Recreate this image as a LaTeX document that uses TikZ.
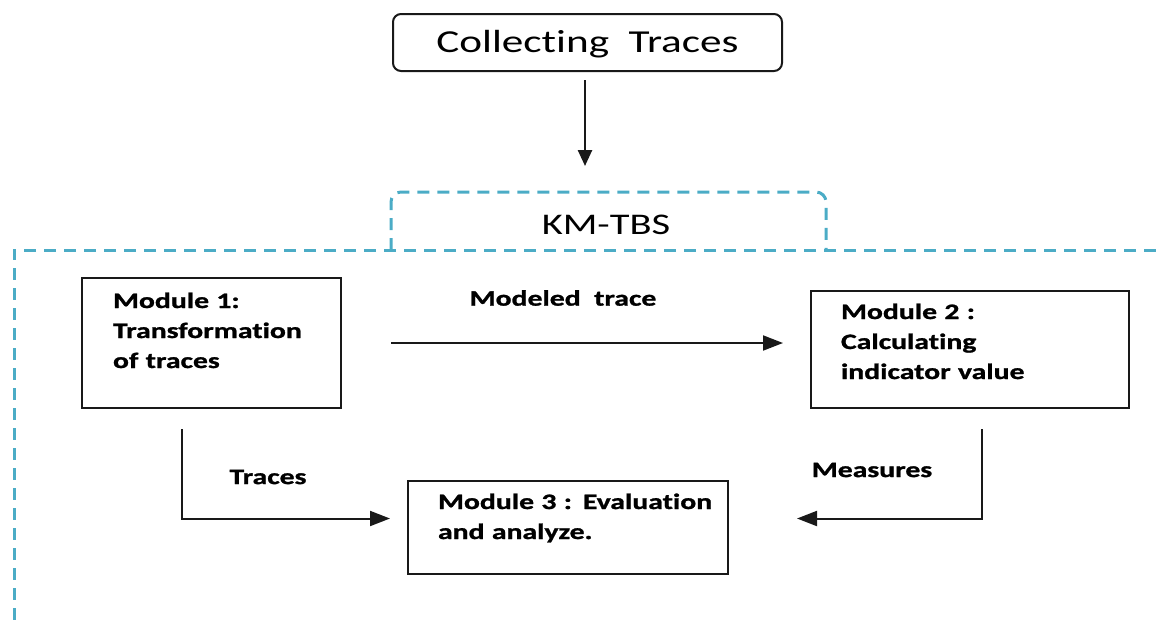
\documentclass[tikz,border=0pt]{standalone}
\usepackage{fontspec}
\setmainfont{Carlito}[FakeStretch=1.35, Ligatures=NoCommon, BoldFeatures={FakeBold=1.2}]
\usetikzlibrary{arrows.meta,calc}
\definecolor{frameblue}{RGB}{75,172,198}
\definecolor{ink}{RGB}{25,25,25}
\tikzset{
  box/.style={draw=ink, line width=2pt, align=left, inner ysep=0pt, anchor=north west,
    font=\bfseries\fontsize{22}{30}\selectfont},
  conn/.style={draw=ink, line width=2pt, -{Triangle[length=20pt,width=15pt]}},
  lbl/.style={font=\bfseries\fontsize{22}{26}\selectfont, inner sep=0pt},
  frame/.style={draw=frameblue, line width=3pt, dash pattern=on 12pt off 8pt},
}
\begin{document}
\begin{tikzpicture}[x=1pt,y=-1pt]
\useasboundingbox (0,0) rectangle (1156,624);

% dashed system frame with its title tab
\draw[frame, rounded corners=10pt] (391,250) -- (391,192) -- (826,192) -- (826,250);
\draw[frame] (1156,250) -- (14,250) -- (14,624);
\coordinate (kmtop) at (604,192);
\node[font=\fontsize{30}{34}\selectfont, inner sep=0pt] (km) at (606,225) {KM-TBS};

% input step
\node[draw=ink, line width=2pt, rounded corners=8pt, minimum width=389pt, minimum height=57pt,
      inner sep=0pt, text height=26pt, text depth=6pt, font=\fontsize{32}{36}\selectfont] (ct) at (587.5,42.5)
  {Collecting\ \ Traces\hspace{20pt}};

% modules
\node[box, text width=197pt, inner xsep=31pt, text height=30pt, text depth=100pt] (m1) at (81,277)
  {Module 1:\\Transformation\\of traces};
\node[box, text width=258pt, inner xsep=30pt, text height=28pt, text depth=89pt] (m2) at (810,290)
  {Module 2 :\\Calculating\\indicator value};
\node[box, text width=260pt, inner xsep=30pt, text height=28pt, text depth=65pt] (m3) at (407,480)
  {\mbox{Module 3 : Evaluation}\\and analyze.};

% connectors
\draw[draw=ink, line width=2.5pt, -{Triangle[length=16pt,width=14pt]}, shorten <=8pt, shorten >=26pt]
  ([xshift=-2.5pt]ct.south) -- ([xshift=-2.5pt]ct.south |- kmtop);
\draw[conn, shorten <=49pt, shorten >=27pt] (m1.east) -- (m1.east -| m2.west);
\draw[conn, shorten <=20pt, shorten >=17pt] ([xshift=-30pt]m1.south) |- ([yshift=9pt]m3.west);
\draw[conn, shorten <=20pt, shorten >=68pt] ([xshift=12pt]m2.south) |- ([yshift=9pt]m3.east);

% connector labels
\node[lbl] (lmt) at (563,298) {Modeled\ \ trace};
\node[lbl] (ltr) at (268,477) {Traces};
\node[lbl] (lms) at (872,470) {Measures};
\end{tikzpicture}
\end{document}
